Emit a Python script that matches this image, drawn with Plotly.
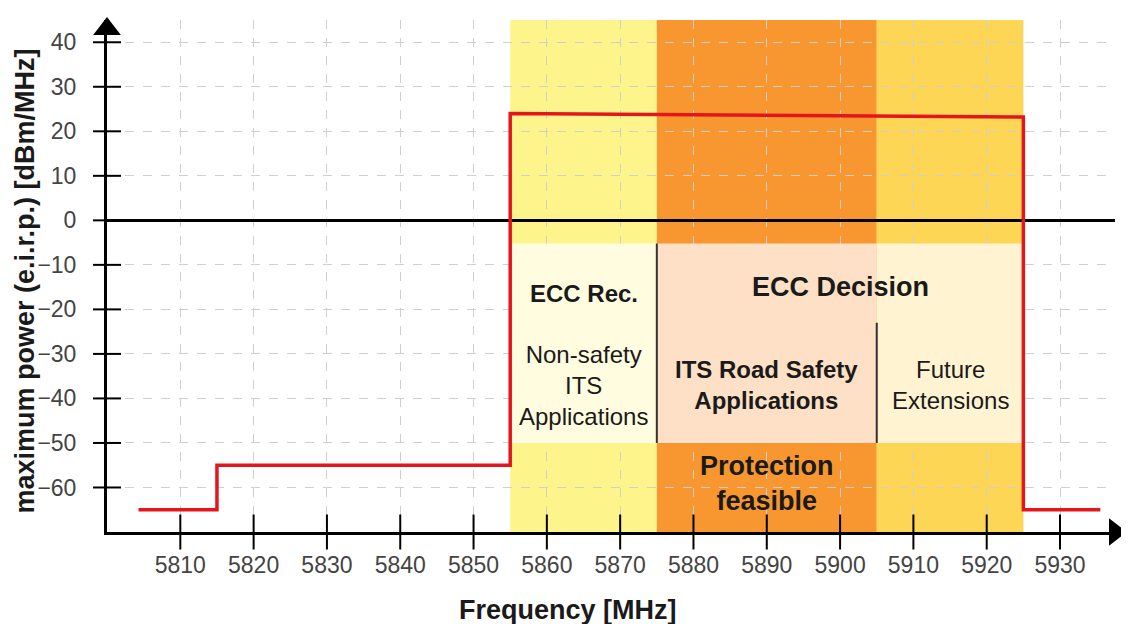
import plotly.graph_objects as go

# --- data ---
freq = [5804.3, 5815, 5815, 5855, 5855, 5925, 5925, 5935.5]
power = [-65, -65, -55, -55, 24, 23.2, -65, -65]

x_ticks = [5810, 5820, 5830, 5840, 5850, 5860, 5870, 5880, 5890, 5900, 5910, 5920, 5930]
y_ticks = [-60, -50, -40, -30, -20, -10, 0, 10, 20, 30, 40]

X_RANGE = [5800, 5937.5]
Y_RANGE = [-70, 45]

# coloured frequency bands
band_start = [5855, 5875, 5905]
band_end = [5875, 5905, 5925]
band_colors = ['#fdf58c', '#f8972f', '#fdd655']

# pale label boxes on top of the bands
box_start = [5855, 5875, 5905]
box_end = [5875, 5905, 5925]
box_colors = ['#fffcdf', '#fde0c5', '#fff3d2']
box_top = -5.2
box_bottom = -50
divider_x = [5875, 5905]
divider_top = [-5.2, -23]

labels = ['ECC Rec.', 'ECC Decision', 'Non-safety<br>ITS<br>Applications',
          'ITS Road Safety<br>Applications', 'Future<br>Extensions', 'Protection<br>feasible']
label_x = [5865, 5900, 5865, 5890, 5915, 5890]
label_y = [-16.5, -15, -37, -37, -37, -59]
label_size = [24, 27, 24, 24, 24, 27]
label_bold = [True, True, False, True, False, True]

FONT = 'Liberation Sans, Arial, sans-serif'

fig = go.Figure()

# red power mask
fig.add_trace(go.Scatter(x=freq, y=power, mode='lines',
                         line=dict(color='#e4161d', width=3.5),
                         hoverinfo='skip', showlegend=False))

# tick marks that cross the axis lines
fig.add_trace(go.Scatter(x=x_ticks, y=[Y_RANGE[0]] * len(x_ticks), mode='markers',
                         marker=dict(symbol='line-ns', size=25, line=dict(width=2, color='black')),
                         cliponaxis=False, hoverinfo='skip', showlegend=False))
fig.add_trace(go.Scatter(x=[X_RANGE[0]] * len(y_ticks), y=y_ticks, mode='markers',
                         marker=dict(symbol='line-ew', size=20, line=dict(width=2, color='black')),
                         cliponaxis=False, hoverinfo='skip', showlegend=False))

# arrow heads at the axis ends
fig.add_trace(go.Scatter(x=[X_RANGE[0]], y=[43.0], mode='markers',
                         marker=dict(symbol='triangle-up', size=24, color='black', line_width=0),
                         cliponaxis=False, hoverinfo='skip', showlegend=False))
fig.add_trace(go.Scatter(x=[X_RANGE[1]], y=[Y_RANGE[0]], mode='markers',
                         marker=dict(symbol='triangle-right', size=24, color='black', line_width=0),
                         cliponaxis=False, hoverinfo='skip', showlegend=False))

for x0, x1, c in zip(band_start, band_end, band_colors):
    fig.add_shape(type='rect', xref='x', yref='y', x0=x0, x1=x1, y0=Y_RANGE[0], y1=Y_RANGE[1],
                  fillcolor=c, line_width=0, layer='below')

for x0, x1, c in zip(box_start, box_end, box_colors):
    fig.add_shape(type='rect', xref='x', yref='y', x0=x0, x1=x1, y0=box_bottom, y1=box_top,
                  fillcolor=c, line_width=0, layer='between')

for xd, yt in zip(divider_x, divider_top):
    fig.add_shape(type='line', xref='x', yref='y', x0=xd, x1=xd, y0=box_bottom, y1=yt,
                  line=dict(color='#333333', width=2), layer='above')

for t, x, y, s, b in zip(labels, label_x, label_y, label_size, label_bold):
    fig.add_annotation(x=x, y=y, xref='x', yref='y', text=t, showarrow=False,
                       font=dict(family=FONT, size=s, color='#1a1a1a',
                                 weight='bold' if b else 'normal'))

# axis titles
title_font = dict(family=FONT, size=27, color='#1a1a1a', weight='bold')
fig.add_annotation(x=0.457, y=0, xref='paper', yref='paper', yanchor='middle', yshift=-78,
                   text='Frequency [MHz]', showarrow=False, font=title_font)
fig.add_annotation(x=-0.081, y=0.49, xref='paper', yref='paper', xanchor='center',
                   textangle=-90, text='maximum power (e.i.r.p.) [dBm/MHz]',
                   showarrow=False, font=title_font)

# the page body adds an 8px offset, so the figure is 8px smaller and margins shifted
fig.update_layout(
    width=1121, height=616,
    margin=dict(l=99, r=14, t=12, b=92, autoexpand=False),
    paper_bgcolor='white', plot_bgcolor='white',
    font=dict(family=FONT, size=23, color='#444444'),
    showlegend=False,
)
fig.update_xaxes(
    range=X_RANGE, tickvals=x_ticks,
    showline=True, linecolor='black', linewidth=3,
    ticks='outside', ticklen=10, tickcolor='rgba(0,0,0,0)',
    showgrid=True, gridcolor='#cfcfcf', griddash='dash', gridwidth=1,
    zeroline=False,
)
fig.update_yaxes(
    range=Y_RANGE, tickvals=y_ticks,
    showline=True, linecolor='black', linewidth=3,
    ticks='outside', ticklen=23, tickcolor='rgba(0,0,0,0)',
    showgrid=True, gridcolor='#cfcfcf', griddash='dash', gridwidth=1,
    zeroline=True, zerolinecolor='black', zerolinewidth=3,
)

fig.write_html("out.html")
